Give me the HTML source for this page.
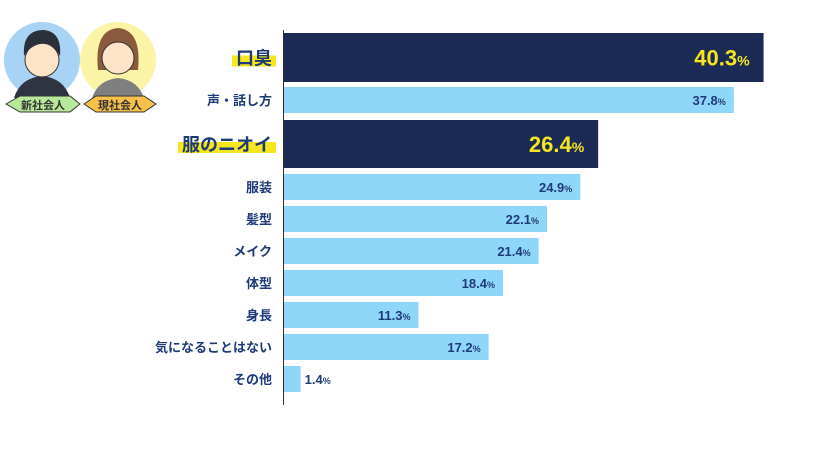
<!DOCTYPE html>
<html><head><meta charset="utf-8"><style>
body{margin:0;width:840px;height:468px;background:#fff;overflow:hidden;font-family:"Liberation Sans","Noto Sans CJK JP",sans-serif}
</style></head><body>
<svg id="chart" width="840" height="468" xmlns="http://www.w3.org/2000/svg" font-family="Liberation Sans, Noto Sans CJK JP, sans-serif">
<g>
<circle cx="42" cy="60" r="38" fill="#a8d3f5"/>
<circle cx="118" cy="60" r="38" fill="#fbf3a6"/>
<path d="M14 98 Q20 78 42 76 Q64 78 70 98 Z" fill="#2f3440"/>
<circle cx="42" cy="60" r="17" fill="#fde3c8" stroke="#333"/>
<path d="M24 56 Q22 30 44 30 Q62 32 60 56 Q52 42 40 44 Q30 46 24 56Z" fill="#2b2f3a"/>
<path d="M92 98 Q98 80 118 78 Q138 80 144 98Z" fill="#7f7f7f"/>
<path d="M98 70 Q94 30 118 28 Q142 30 138 70 Z" fill="#8a5a3c"/>
<circle cx="118" cy="58" r="16" fill="#fde3c8" stroke="#333"/>
<path d="M6 104 L20 96 L70 96 L80 104 L70 112 L20 112Z" fill="#b8e89a" stroke="#333"/>
<text x="43" y="109" font-size="11" font-weight="bold" text-anchor="middle" fill="#333">新社会人</text>
<path d="M84 104 L96 96 L144 96 L156 104 L144 112 L96 112Z" fill="#f7c04a" stroke="#333"/>
<text x="120" y="109" font-size="11" font-weight="bold" text-anchor="middle" fill="#333">現社会人</text>
</g>
<line x1="283.5" y1="30" x2="283.5" y2="405" stroke="#333" stroke-width="1"/>
</svg>
<script>
const categories=["口臭","声・話し方","服のニオイ","服装","髪型","メイク","体型","身長","気になることはない","その他"];
const values=[40.3,37.8,26.4,24.9,22.1,21.4,18.4,11.3,17.2,1.4];
const highlighted=[true,false,true,false,false,false,false,false,false,false];
const svg=document.getElementById('chart');
const NS='http://www.w3.org/2000/svg';
const x0=284,pxPer=11.9;
function xScale(v){return x0+v*pxPer;}
function rowY(i){if(i===0)return {y:33,h:49};if(i===1)return {y:87,h:26};if(i===2)return {y:120,h:48};return {y:174+(i-3)*32,h:26};}
function mk(t,a){const e=document.createElementNS(NS,t);for(const k in a)e.setAttribute(k,a[k]);svg.appendChild(e);return e;}
for(let i=0;i<categories.length;i++){
 const r=rowY(i),hl=highlighted[i],cy=r.y+r.h/2;
 const bw=xScale(values[i])-x0;
 const bar=mk('rect',{x:x0,y:r.y,width:bw,height:r.h,fill:hl?'#1c2b56':'#8fd7f8'});
 
 
 if(hl){const w=categories[i].length*18+6;
  const hb=mk('rect',{x:274-w,y:cy-2,width:w+2,height:11,fill:'#f5e61e'});
  
  }
 const lab=mk('text',{x:272,y:cy+(hl?7:5),'font-size':hl?18:13,'font-weight':'bold','text-anchor':'end',fill:'#1f3a78'});
 lab.textContent=categories[i];
 
 
 const inside=bw>50;
 const vt=mk('text',{x:inside?xScale(values[i])-(hl?14:8):xScale(values[i])+4,y:cy+(hl?8:5),'font-size':hl?22:13,'font-weight':'bold','text-anchor':inside?'end':'start',fill:hl?'#f5e61e':'#1f3a78'});
 vt.innerHTML=values[i].toFixed(1)+'<tspan font-size="'+(hl?14:9)+'">%</tspan>';
 
 
}
</script>
</body></html>
